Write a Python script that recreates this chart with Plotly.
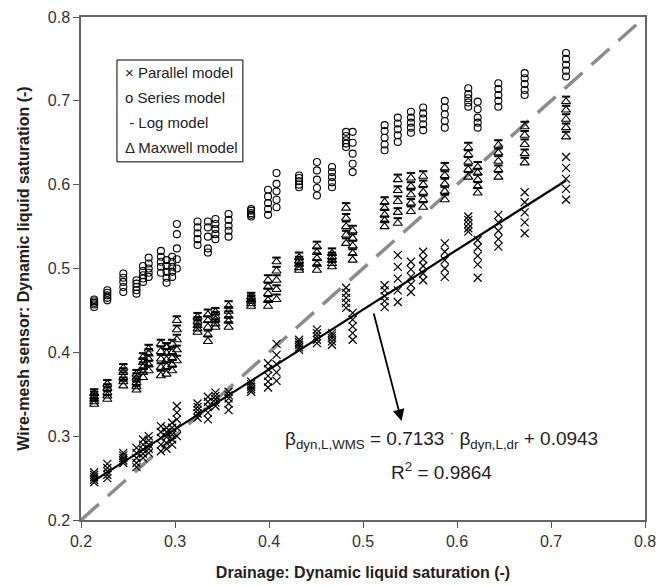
import plotly.graph_objects as go

# Drainage (x) value of each measurement group
drainage_x = [0.214, 0.228, 0.245, 0.259, 0.266, 0.272, 0.285, 0.291, 0.297, 0.302,
              0.324, 0.335, 0.343, 0.357, 0.381, 0.399, 0.408, 0.432, 0.451, 0.467,
              0.482, 0.489, 0.523, 0.537, 0.551, 0.564, 0.587, 0.612, 0.622, 0.644,
              0.672, 0.716]

parallel_y = [
    [0.245, 0.248, 0.251, 0.254, 0.257], [0.250, 0.254, 0.258, 0.262, 0.267],
    [0.268, 0.271, 0.274, 0.277, 0.280], [0.263, 0.268, 0.274, 0.280, 0.286],
    [0.274, 0.279, 0.284, 0.290, 0.296], [0.280, 0.285, 0.290, 0.295, 0.300],
    [0.282, 0.290, 0.298, 0.305, 0.312], [0.285, 0.292, 0.299, 0.305, 0.310],
    [0.290, 0.296, 0.302, 0.310, 0.316], [0.300, 0.310, 0.320, 0.328, 0.336],
    [0.322, 0.327, 0.331, 0.335, 0.339], [0.320, 0.328, 0.335, 0.341, 0.347],
    [0.336, 0.340, 0.344, 0.348, 0.352], [0.331, 0.339, 0.345, 0.349, 0.353],
    [0.353, 0.356, 0.359, 0.362, 0.365], [0.358, 0.365, 0.372, 0.380, 0.387],
    [0.366, 0.376, 0.386, 0.397, 0.410], [0.403, 0.406, 0.409, 0.412, 0.415],
    [0.411, 0.415, 0.419, 0.423, 0.427], [0.409, 0.413, 0.417, 0.420, 0.423],
    [0.453, 0.459, 0.465, 0.471, 0.477], [0.415, 0.423, 0.431, 0.439, 0.447],
    [0.454, 0.461, 0.467, 0.474, 0.480], [0.460, 0.474, 0.488, 0.502, 0.516],
    [0.472, 0.481, 0.490, 0.499, 0.508], [0.486, 0.494, 0.503, 0.511, 0.520],
    [0.490, 0.500, 0.510, 0.520, 0.530], [0.544, 0.548, 0.553, 0.558, 0.562],
    [0.489, 0.505, 0.515, 0.525, 0.534], [0.526, 0.535, 0.545, 0.555, 0.564],
    [0.542, 0.555, 0.567, 0.579, 0.591], [0.582, 0.595, 0.607, 0.620, 0.633],
]

series_y = [
    [0.454, 0.457, 0.459, 0.461, 0.463], [0.462, 0.465, 0.468, 0.471, 0.474],
    [0.472, 0.478, 0.484, 0.489, 0.494], [0.470, 0.474, 0.478, 0.482, 0.486],
    [0.484, 0.488, 0.492, 0.497, 0.503], [0.490, 0.495, 0.500, 0.506, 0.513],
    [0.495, 0.502, 0.508, 0.514, 0.521], [0.483, 0.489, 0.496, 0.503, 0.510],
    [0.490, 0.496, 0.502, 0.508, 0.514], [0.500, 0.511, 0.524, 0.541, 0.553],
    [0.528, 0.535, 0.542, 0.549, 0.556], [0.519, 0.524, 0.538, 0.549, 0.556],
    [0.535, 0.541, 0.547, 0.553, 0.559], [0.538, 0.545, 0.551, 0.558, 0.565],
    [0.562, 0.564, 0.566, 0.569, 0.571], [0.564, 0.571, 0.578, 0.586, 0.594],
    [0.573, 0.582, 0.592, 0.601, 0.614], [0.597, 0.600, 0.604, 0.608, 0.611],
    [0.587, 0.596, 0.606, 0.617, 0.627], [0.597, 0.603, 0.609, 0.615, 0.621],
    [0.645, 0.649, 0.653, 0.658, 0.663], [0.615, 0.625, 0.637, 0.650, 0.663],
    [0.641, 0.648, 0.656, 0.664, 0.671], [0.651, 0.659, 0.666, 0.673, 0.680],
    [0.662, 0.668, 0.674, 0.680, 0.687], [0.665, 0.672, 0.679, 0.685, 0.692],
    [0.668, 0.676, 0.684, 0.692, 0.700], [0.693, 0.698, 0.703, 0.708, 0.715],
    [0.668, 0.674, 0.680, 0.690, 0.699], [0.693, 0.700, 0.707, 0.714, 0.721],
    [0.707, 0.713, 0.720, 0.727, 0.733], [0.729, 0.736, 0.743, 0.750, 0.757],
]

maxwell_y = [
    [0.338, 0.341, 0.344, 0.347, 0.351], [0.344, 0.348, 0.352, 0.357, 0.362],
    [0.360, 0.365, 0.370, 0.376, 0.381], [0.355, 0.359, 0.364, 0.369, 0.374],
    [0.370, 0.376, 0.382, 0.388, 0.394], [0.378, 0.385, 0.392, 0.398, 0.404],
    [0.372, 0.382, 0.392, 0.401, 0.410], [0.374, 0.383, 0.391, 0.399, 0.406],
    [0.378, 0.385, 0.393, 0.400, 0.410], [0.390, 0.403, 0.415, 0.427, 0.438],
    [0.424, 0.428, 0.432, 0.437, 0.442], [0.413, 0.421, 0.430, 0.438, 0.445],
    [0.430, 0.434, 0.439, 0.443, 0.448], [0.430, 0.437, 0.443, 0.449, 0.455],
    [0.455, 0.458, 0.461, 0.463, 0.466], [0.455, 0.462, 0.470, 0.478, 0.486],
    [0.463, 0.475, 0.486, 0.497, 0.508], [0.498, 0.501, 0.505, 0.509, 0.513],
    [0.498, 0.505, 0.512, 0.519, 0.526], [0.502, 0.506, 0.510, 0.514, 0.518],
    [0.530, 0.540, 0.550, 0.560, 0.572], [0.510, 0.518, 0.527, 0.536, 0.545],
    [0.550, 0.557, 0.564, 0.572, 0.579], [0.554, 0.567, 0.580, 0.593, 0.606],
    [0.568, 0.578, 0.588, 0.598, 0.608], [0.573, 0.582, 0.591, 0.600, 0.610],
    [0.582, 0.592, 0.601, 0.611, 0.620], [0.609, 0.618, 0.627, 0.636, 0.644],
    [0.590, 0.598, 0.606, 0.614, 0.621], [0.609, 0.618, 0.628, 0.638, 0.647],
    [0.626, 0.637, 0.648, 0.659, 0.669], [0.657, 0.668, 0.678, 0.689, 0.699],
]

log_y = [
    [0.343, 0.346, 0.350, 0.353, 0.356], [0.349, 0.354, 0.358, 0.362, 0.367],
    [0.366, 0.370, 0.376, 0.381, 0.386], [0.360, 0.365, 0.369, 0.375, 0.379],
    [0.376, 0.381, 0.388, 0.393, 0.399], [0.384, 0.390, 0.397, 0.404, 0.409],
    [0.378, 0.387, 0.397, 0.407, 0.415], [0.380, 0.388, 0.397, 0.404, 0.411],
    [0.383, 0.391, 0.398, 0.406, 0.415], [0.396, 0.408, 0.421, 0.432, 0.443],
    [0.430, 0.433, 0.438, 0.442, 0.447], [0.419, 0.426, 0.436, 0.443, 0.451],
    [0.436, 0.439, 0.445, 0.448, 0.453], [0.436, 0.442, 0.449, 0.454, 0.461],
    [0.461, 0.463, 0.467, 0.468, 0.471], [0.461, 0.467, 0.476, 0.483, 0.492],
    [0.469, 0.480, 0.492, 0.502, 0.513], [0.504, 0.506, 0.511, 0.514, 0.519],
    [0.504, 0.510, 0.518, 0.524, 0.532], [0.508, 0.511, 0.516, 0.519, 0.524],
    [0.536, 0.545, 0.556, 0.565, 0.578], [0.516, 0.523, 0.533, 0.541, 0.551],
    [0.556, 0.562, 0.570, 0.577, 0.585], [0.560, 0.572, 0.586, 0.598, 0.612],
    [0.574, 0.583, 0.594, 0.603, 0.614], [0.579, 0.587, 0.597, 0.605, 0.616],
    [0.588, 0.597, 0.607, 0.616, 0.626], [0.615, 0.623, 0.633, 0.641, 0.650],
    [0.596, 0.603, 0.612, 0.619, 0.627], [0.615, 0.623, 0.634, 0.643, 0.653],
    [0.632, 0.642, 0.654, 0.664, 0.675], [0.663, 0.673, 0.684, 0.694, 0.705],
]

# Linear fit of the parallel model (as stated on the chart)
fit_slope = 0.7133
fit_intercept = 0.0943
fit_x = [0.214, 0.716]

axis_ticks = [0.2, 0.3, 0.4, 0.5, 0.6, 0.7, 0.8]

legend_labels = ["× Parallel model", "o Series model", " - Log model", "Δ Maxwell model"]


def expand(groups):
    xs, ys = [], []
    for x, vals in zip(drainage_x, groups):
        for v in vals:
            xs.append(x)
            ys.append(v)
    return xs, ys


FONT = "Liberation Sans, Arial, sans-serif"
fig = go.Figure()

# 1:1 diagonal
fig.add_trace(go.Scatter(x=[0.2, 0.8], y=[0.2, 0.8], mode="lines",
                         line=dict(color="#8c8c8c", width=3.5, dash="24px,12px"),
                         showlegend=False, hoverinfo="skip"))

px_, py_ = expand(parallel_y)
fig.add_trace(go.Scatter(x=px_, y=py_, mode="markers", name="Parallel model",
                         marker=dict(symbol="x-thin-open", size=8, color="black",
                                     line=dict(color="black", width=1.2))))
sx, sy = expand(series_y)
fig.add_trace(go.Scatter(x=sx, y=sy, mode="markers", name="Series model",
                         marker=dict(symbol="circle-open", size=7, color="black",
                                     line=dict(color="black", width=1.1))))
mx, my = expand(maxwell_y)
lx, ly = expand(log_y)
fig.add_trace(go.Scatter(x=lx, y=ly, mode="markers", name="Log model",
                         marker=dict(symbol="line-ew-open", size=6, color="black",
                                     line=dict(color="black", width=2))))
fig.add_trace(go.Scatter(x=mx, y=my, mode="markers", name="Maxwell model",
                         marker=dict(symbol="triangle-up-open", size=8, color="black",
                                     line=dict(color="black", width=1.1))))

fig.add_trace(go.Scatter(x=fit_x, y=[fit_slope * x + fit_intercept for x in fit_x],
                         mode="lines", line=dict(color="black", width=2.2),
                         showlegend=False, hoverinfo="skip"))

# arrow to equation
fig.add_annotation(x=0.541, y=0.318, ax=0.511, ay=0.448, xref="x", yref="y",
                   axref="x", ayref="y", showarrow=True, arrowhead=2,
                   arrowsize=1.3, arrowwidth=1.8, arrowcolor="black", text="")

fig.add_annotation(x=0.584, y=0.297, xref="x", yref="y", showarrow=False,
                   text="β<sub>dyn,L,WMS</sub> = 0.7133 <sup>·</sup> β<sub>dyn,L,dr</sub> + 0.0943",
                   font=dict(family=FONT, size=19, color="#222"))
fig.add_annotation(x=0.584, y=0.259, xref="x", yref="y", showarrow=False,
                   text="R<sup>2</sup> = 0.9864",
                   font=dict(family=FONT, size=19, color="#222"))

# legend box drawn as a framed text block
fig.add_shape(type="rect", xref="paper", yref="paper",
              x0=0.0638, x1=0.287, y0=0.712, y1=0.9145,
              line=dict(color="black", width=1), fillcolor="white", layer="above")
for i, lab in enumerate(legend_labels):
    fig.add_annotation(x=0.074, y=0.889 - i * 0.0497, xref="paper", yref="paper",
                       xanchor="left", yanchor="middle", showarrow=False, text=lab,
                       font=dict(family=FONT, size=15, color="#222"))

axis_common = dict(range=[0.2, 0.8], tickvals=axis_ticks,
                   ticktext=[f"{t:.1f}" for t in axis_ticks],
                   ticks="outside", ticklen=6, tickcolor="#555", tickwidth=1.3,
                   showline=True, linecolor="#666", linewidth=1.5, mirror=True,
                   showgrid=False, zeroline=False, automargin=False,
                   tickfont=dict(family=FONT, size=16, color="#333"))

fig.update_layout(
    width=670, height=586,
    margin=dict(l=81, r=25, t=17, b=66),
    paper_bgcolor="white", plot_bgcolor="white",
    xaxis=dict(**axis_common,
               title=dict(text="<b>Drainage: Dynamic liquid saturation (-)</b>",
                          font=dict(family=FONT, size=16, color="#222"), standoff=18)),
    yaxis=dict(**axis_common,
               title=dict(text="<b>Wire-mesh sensor: Dynamic liquid saturation (-)</b>",
                          font=dict(family=FONT, size=16, color="#222"), standoff=14)),
    showlegend=False,
)

fig.write_html("out.html", config={"displayModeBar": False},
               post_script="document.body.style.margin='0';")
